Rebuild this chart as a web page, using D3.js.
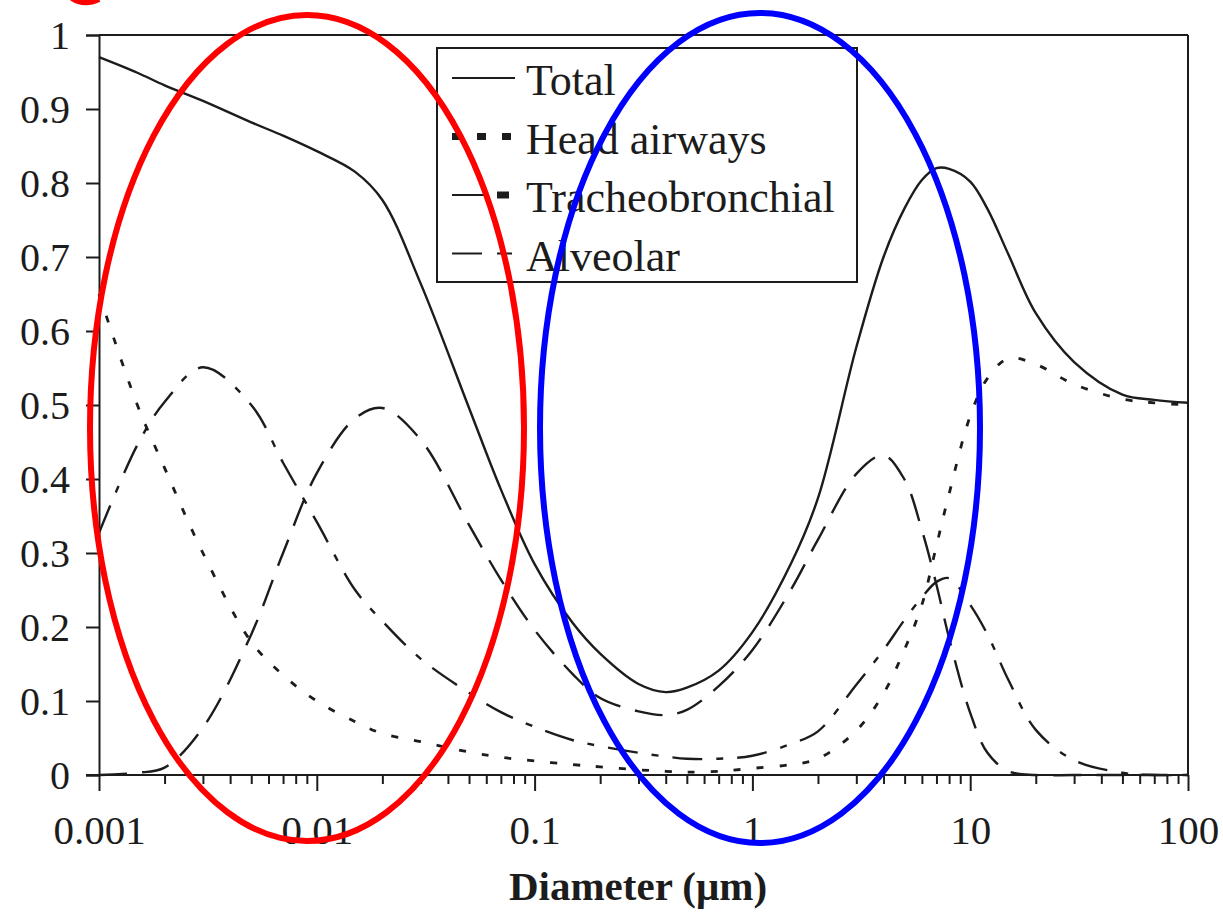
<!DOCTYPE html>
<html><head><meta charset="utf-8">
<script src="https://cdn.jsdelivr.net/npm/d3@7"></script>
<style>html,body{margin:0;padding:0;background:#fff;} svg{display:block;}</style>
</head><body>
<svg id="chart" width="1223" height="915"></svg>
<script>
// ---- data ----
const diameters = [0.001,0.0015,0.002,0.003,0.005,0.007,0.01,0.015,0.02,0.03,0.05,0.07,0.1,0.15,0.2,0.3,0.4,0.5,0.7,1,1.5,2,3,4,5,6,7,8,10,12,15,20,30,50,70,100];
const total        = [0.970,0.949,0.932,0.911,0.882,0.864,0.843,0.815,0.777,0.664,0.496,0.386,0.285,0.205,0.164,0.123,0.112,0.118,0.141,0.193,0.285,0.374,0.578,0.700,0.766,0.804,0.820,0.819,0.802,0.765,0.703,0.624,0.558,0.514,0.507,0.503];
const headAirways  = [0.650,0.500,0.415,0.300,0.180,0.135,0.100,0.072,0.056,0.045,0.031,0.024,0.019,0.014,0.011,0.007,0.005,0.004,0.005,0.009,0.014,0.022,0.060,0.110,0.170,0.230,0.310,0.380,0.485,0.536,0.563,0.555,0.528,0.508,0.503,0.500];
const tracheo      = [0.327,0.446,0.504,0.551,0.500,0.422,0.342,0.250,0.208,0.157,0.111,0.085,0.065,0.047,0.039,0.030,0.025,0.022,0.022,0.026,0.042,0.059,0.122,0.169,0.210,0.240,0.261,0.266,0.230,0.190,0.128,0.061,0.020,0.003,0,0];
const alveolar     = [0,0.003,0.010,0.064,0.190,0.300,0.408,0.482,0.496,0.453,0.338,0.264,0.196,0.136,0.104,0.086,0.081,0.088,0.120,0.169,0.250,0.318,0.407,0.432,0.399,0.331,0.257,0.185,0.084,0.030,0.005,0,0,0,0,0];
const seriesNames  = ["Total","Head airways","Tracheobronchial","Alveolar"];
const yTicks = [0,0.1,0.2,0.3,0.4,0.5,0.6,0.7,0.8,0.9,1];
const yTickLabels = ["0","0.1","0.2","0.3","0.4","0.5","0.6","0.7","0.8","0.9","1"];
const xMajorTicks = [0.001,0.01,0.1,1,10,100];
const xTickLabels = ["0.001","0.01","0.1","1","10","100"];
const xTitle = "Diameter (\u03bcm)";

// ---- layout ----
const svg = d3.select("#chart");
const L = 99, R = 1188, T = 35, B = 775;
const x = d3.scaleLog().domain([0.001,100]).range([L,R]);
const y = d3.scaleLinear().domain([0,1]).range([B,T]);
const ink = "#1c1c1c";
const serif = "'Liberation Serif','Times New Roman',serif";

// red fragment at the top edge (bottom of a cropped red letter)
svg.append("path").attr("d","M72,-2 Q84,6 99,-1").attr("fill","none").attr("stroke","#ff0000").attr("stroke-width",6);

// frame
svg.append("line").attr("x1",L).attr("x2",R).attr("y1",T).attr("y2",T).attr("stroke",ink).attr("stroke-width",2);
svg.append("line").attr("x1",R).attr("x2",R).attr("y1",T).attr("y2",B).attr("stroke",ink).attr("stroke-width",2);

// y axis
const yAxis = d3.axisLeft(y).tickValues(yTicks).tickFormat((d,i)=>yTickLabels[i]).tickSize(13).tickPadding(16);
const gy = svg.append("g").attr("transform",`translate(${L},0)`).call(yAxis);
gy.select(".domain").attr("stroke",ink).attr("stroke-width",2);
gy.selectAll(".tick line").attr("stroke",ink).attr("stroke-width",2);
gy.selectAll(".tick text").attr("font-family",serif).attr("font-size",40).attr("fill",ink).attr("dy","0.34em");

// x axis: minor ticks
const minor = [];
for (let e=-3;e<2;e++) for (let m=2;m<=9;m++) minor.push(m*Math.pow(10,e));
const xMinor = d3.axisBottom(x).tickValues(minor).tickFormat("").tickSize(9);
const gxm = svg.append("g").attr("transform",`translate(0,${B})`).call(xMinor);
gxm.select(".domain").remove();
gxm.selectAll(".tick line").attr("stroke",ink).attr("stroke-width",2);
const xAxis = d3.axisBottom(x).tickValues(xMajorTicks).tickFormat((d,i)=>xTickLabels[i]).tickSize(16).tickPadding(24);
const gx = svg.append("g").attr("transform",`translate(0,${B})`).call(xAxis);
gx.select(".domain").attr("stroke",ink).attr("stroke-width",2).attr("d",`M${L-13},0H${R}`);
gx.selectAll(".tick line").attr("stroke",ink).attr("stroke-width",2);
gx.selectAll(".tick text").attr("font-family",serif).attr("font-size",41).attr("fill",ink);

svg.append("text").attr("x",638).attr("y",900).attr("text-anchor","middle")
  .attr("font-family",serif).attr("font-weight","bold").attr("font-size",41).attr("fill",ink).text(xTitle);

// curves
const styles = [
  {vals: total, dash: null, w: 2.4},
  {vals: headAirways, dash: "7,16", w: 2.8},
  {vals: tracheo, dash: "30,14,7,14", w: 2.4},
  {vals: alveolar, dash: "28,15", w: 2.4}
];
const line = d3.line().x(d=>x(d[0])).y(d=>y(d[1])).curve(d3.curveCatmullRom.alpha(0.5));
styles.forEach(s=>{
  const pts = diameters.map((d,i)=>[d,s.vals[i]]);
  const p = svg.append("path").attr("d",line(pts)).attr("fill","none").attr("stroke",ink).attr("stroke-width",s.w);
  if (s.dash) p.attr("stroke-dasharray",s.dash);
});

// legend
const lg = svg.append("g");
lg.append("rect").attr("x",437).attr("y",48).attr("width",420).attr("height",234).attr("fill","none").attr("stroke",ink).attr("stroke-width",2);
seriesNames.forEach((name,i)=>{
  const by = 95 + i*58.5, ly = by - 17;
  lg.append("text").attr("x",526).attr("y",by).attr("font-family",serif).attr("font-size",44).attr("fill",ink).text(name);
  if (i===0) lg.append("line").attr("x1",452).attr("x2",515).attr("y1",ly).attr("y2",ly).attr("stroke",ink).attr("stroke-width",2);
  if (i===1) lg.append("line").attr("x1",452).attr("x2",515).attr("y1",ly).attr("y2",ly).attr("stroke",ink).attr("stroke-width",7).attr("stroke-dasharray","9,16");
  if (i===2) {
    lg.append("line").attr("x1",452).attr("x2",484).attr("y1",ly).attr("y2",ly).attr("stroke",ink).attr("stroke-width",2);
    lg.append("line").attr("x1",497).attr("x2",509).attr("y1",ly).attr("y2",ly).attr("stroke",ink).attr("stroke-width",7);
  }
  if (i===3) {
    lg.append("line").attr("x1",452).attr("x2",482).attr("y1",ly).attr("y2",ly).attr("stroke",ink).attr("stroke-width",2);
    lg.append("line").attr("x1",497).attr("x2",512).attr("y1",ly).attr("y2",ly).attr("stroke",ink).attr("stroke-width",2);
  }
});

// annotation ellipses
svg.append("ellipse").attr("cx",307).attr("cy",428).attr("rx",217).attr("ry",413).attr("fill","none").attr("stroke","#ff0000").attr("stroke-width",6);
svg.append("ellipse").attr("cx",760).attr("cy",428).attr("rx",220).attr("ry",415).attr("fill","none").attr("stroke","#0000ff").attr("stroke-width",6);
</script>
</body></html>
